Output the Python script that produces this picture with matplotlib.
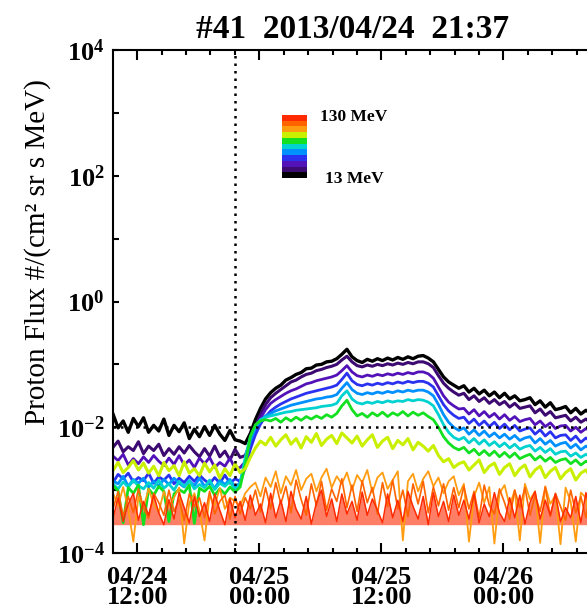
import numpy as np
import pandas as pd
import matplotlib
matplotlib.use("Agg")
import matplotlib.pyplot as plt
import matplotlib.dates as mdates
from matplotlib.colors import ListedColormap
from matplotlib.ticker import MultipleLocator, NullLocator

plt.rcParams['font.family'] = ['Liberation Serif', 'DejaVu Serif']
plt.rcParams['font.weight'] = 'bold'
plt.rcParams['mathtext.fontset'] = 'custom'
plt.rcParams['mathtext.rm'] = 'Liberation Serif'
plt.rcParams['mathtext.bf'] = 'Liberation Serif:bold'

# event onset and 30-min samples (log10 flux per channel)
event_time = pd.Timestamp('2013-04-24 21:37')
t_start = pd.Timestamp('2013-04-24 09:37')
t_end = t_start + pd.Timedelta(hours=46.9)
times = pd.date_range(t_start, periods=95, freq='30min')

lo_label = '13 MeV'
hi_label = '130 MeV'
threshold = 1e-2
red_floor = -3.55

ch_colors = ['#000000', '#3c0a70', '#5212b8', '#2a32f0', '#0090ff',
             '#00d2d0', '#12e020', '#c8f000', '#ff9c10', '#ff6400', '#ff2a00']

ch0 = [-1.79, -2.01, -1.90, -2.08, -1.86, -1.99, -1.85, -2.08, -1.97, -2.06, -1.87, -2.13, -1.97,
       -2.07, -1.93, -2.18, -2.03, -2.15, -1.99, -2.13, -1.97, -2.11, -2.21, -2.05, -2.20,
       -2.22, -2.26, -2.10, -1.88, -1.70, -1.55,
       -1.45, -1.38, -1.33, -1.25, -1.21, -1.16, -1.13, -1.07, -1.06, -1.01, -1.00, -0.96, -0.95, -0.91, -0.84, -0.76,
       -0.88, -0.94, -0.97, -0.92, -0.95, -0.91, -0.94, -0.90, -0.93, -0.89, -0.92, -0.88, -0.91, -0.87, -0.86, -0.90, -0.96,
       -1.08, -1.20, -1.28, -1.33, -1.38,
       -1.34, -1.44, -1.38, -1.47, -1.41, -1.50, -1.44, -1.53, -1.46, -1.55, -1.50, -1.58, -1.56,
       -1.53, -1.64, -1.58, -1.68, -1.61, -1.72, -1.70, -1.67, -1.77, -1.70, -1.79, -1.73, -1.78]
ch1 = [-2.32, -2.22, -2.39, -2.31, -2.37, -2.23, -2.42, -2.30, -2.37, -2.27, -2.45, -2.34, -2.43,
       -2.31, -2.41, -2.29, -2.39, -2.47, -2.34, -2.46, -2.30, -2.47, -2.38, -2.52, -2.35,
       -2.48, -2.45, -2.25, -2.00, -1.80, -1.64,
       -1.53, -1.46, -1.40, -1.34, -1.28, -1.25, -1.20, -1.16, -1.14, -1.10, -1.08, -1.05, -1.03, -1.00, -0.93, -0.87,
       -0.96, -1.02, -1.04, -1.01, -1.03, -1.00, -1.02, -0.99, -1.01, -0.98, -1.00, -0.97, -0.99, -0.96, -0.96, -0.99, -1.05,
       -1.18, -1.30, -1.38, -1.44, -1.49,
       -1.46, -1.56, -1.50, -1.59, -1.53, -1.62, -1.56, -1.64, -1.59, -1.68, -1.62, -1.70, -1.68,
       -1.66, -1.77, -1.71, -1.81, -1.75, -1.85, -1.83, -1.81, -1.90, -1.84, -1.92, -1.87, -1.93]
ch2 = [-2.46, -2.53, -2.43, -2.60, -2.50, -2.58, -2.47, -2.56, -2.45, -2.54, -2.61, -2.49, -2.59,
       -2.45, -2.60, -2.52, -2.64, -2.49, -2.58, -2.48, -2.64, -2.56, -2.62, -2.49, -2.66,
       -2.64, -2.55, -2.30, -2.05, -1.86, -1.72,
       -1.62, -1.56, -1.51, -1.46, -1.42, -1.39, -1.35, -1.31, -1.29, -1.26, -1.24, -1.22, -1.20, -1.17, -1.10, -1.02,
       -1.12, -1.18, -1.20, -1.17, -1.19, -1.16, -1.18, -1.15, -1.17, -1.14, -1.16, -1.13, -1.15, -1.12, -1.12, -1.15, -1.22,
       -1.36, -1.50, -1.60, -1.66, -1.71,
       -1.70, -1.79, -1.72, -1.82, -1.75, -1.84, -1.78, -1.87, -1.80, -1.89, -1.83, -1.91, -1.88,
       -1.86, -1.96, -1.90, -1.99, -1.93, -2.02, -1.98, -1.97, -2.06, -2.00, -2.08, -2.02, -2.07]
ch3 = [-2.88, -2.75, -2.82, -2.73, -2.87, -2.80, -2.85, -2.73, -2.89, -2.79, -2.84, -2.76, -2.90,
       -2.81, -2.88, -2.78, -2.86, -2.76, -2.84, -2.90, -2.80, -2.89, -2.76, -2.89, -2.82,
       -2.86, -2.65, -2.35, -2.12, -1.95, -1.83,
       -1.74, -1.68, -1.63, -1.59, -1.55, -1.52, -1.49, -1.46, -1.44, -1.42, -1.40, -1.38, -1.36, -1.33, -1.24, -1.14,
       -1.26, -1.32, -1.34, -1.31, -1.33, -1.30, -1.32, -1.29, -1.31, -1.28, -1.30, -1.27, -1.29, -1.27, -1.27, -1.30, -1.36,
       -1.50, -1.64, -1.74, -1.81, -1.86,
       -1.84, -1.94, -1.87, -1.97, -1.90, -1.99, -1.92, -2.02, -1.95, -2.04, -1.97, -2.06, -2.03,
       -2.01, -2.11, -2.04, -2.14, -2.07, -2.17, -2.13, -2.12, -2.21, -2.14, -2.24, -2.17, -2.23]
ch4 = [-2.85, -2.90, -2.78, -2.94, -2.83, -2.89, -2.81, -2.95, -2.86, -2.93, -2.83, -2.91, -2.81,
       -2.89, -2.95, -2.85, -2.93, -2.81, -2.94, -2.87, -2.97, -2.84, -2.91, -2.83, -2.96,
       -2.88, -2.55, -2.22, -2.02, -1.90, -1.82,
       -1.78, -1.74, -1.71, -1.68, -1.65, -1.63, -1.61, -1.59, -1.57, -1.55, -1.54, -1.52, -1.51, -1.48, -1.38, -1.29,
       -1.40, -1.46, -1.48, -1.45, -1.47, -1.44, -1.46, -1.43, -1.45, -1.42, -1.44, -1.41, -1.43, -1.41, -1.41, -1.44, -1.50,
       -1.64, -1.80, -1.92, -2.00, -2.05,
       -2.01, -2.11, -2.04, -2.13, -2.06, -2.15, -2.09, -2.17, -2.11, -2.19, -2.13, -2.21, -2.17,
       -2.15, -2.25, -2.18, -2.27, -2.21, -2.30, -2.26, -2.24, -2.33, -2.27, -2.36, -2.30, -2.35]
ch5 = [-2.90, -2.98, -2.87, -2.95, -2.85, -2.93, -2.98, -2.88, -2.97, -2.84, -2.97, -2.90, -3.00,
       -2.86, -2.94, -2.85, -2.98, -2.91, -2.96, -2.84, -2.99, -2.89, -2.94, -2.86, -3.00,
       -2.90, -2.48, -2.15, -1.98, -1.88, -1.84,
       -1.82, -1.80, -1.78, -1.76, -1.75, -1.73, -1.72, -1.71, -1.70, -1.69, -1.67, -1.66, -1.65, -1.62, -1.50, -1.42,
       -1.55, -1.61, -1.63, -1.60, -1.62, -1.59, -1.61, -1.58, -1.60, -1.58, -1.59, -1.56, -1.58, -1.56, -1.57, -1.60, -1.66,
       -1.80, -1.96, -2.08, -2.16, -2.20,
       -2.16, -2.25, -2.18, -2.27, -2.20, -2.29, -2.23, -2.31, -2.25, -2.33, -2.27, -2.35, -2.31,
       -2.29, -2.38, -2.32, -2.40, -2.34, -2.43, -2.39, -2.38, -2.46, -2.41, -2.48, -2.43, -2.47]
ch6 = [-2.93, -3.01, -3.52, -2.96, -3.05, -2.92, -3.55, -2.98, -3.08, -2.94, -3.02, -3.50, -3.06,
       -2.99, -3.04, -2.92, -3.53, -2.97, -3.02, -2.94, -3.08, -2.98, -3.06, -2.95, -3.03,
       -2.95, -2.60, -2.15, -1.96, -1.90, -1.88,
       -1.90, -1.86, -1.92, -1.85, -1.90, -1.84, -1.89, -1.83, -1.87, -1.82, -1.86, -1.80, -1.84, -1.78, -1.66, -1.57,
       -1.72, -1.82, -1.78, -1.84, -1.77, -1.82, -1.76, -1.83, -1.77, -1.81, -1.75, -1.82, -1.76, -1.81, -1.77, -1.83, -1.88,
       -2.00, -2.15, -2.25, -2.32, -2.36,
       -2.32, -2.41, -2.35, -2.44, -2.37, -2.45, -2.38, -2.47, -2.40, -2.48, -2.41, -2.50, -2.46,
       -2.43, -2.52, -2.46, -2.54, -2.48, -2.56, -2.52, -2.50, -2.58, -2.52, -2.60, -2.54, -2.58]
ch7 = [-2.69, -2.56, -2.72, -2.64, -2.53, -2.68, -2.57, -2.73, -2.62, -2.77, -2.56, -2.69, -2.61,
       -2.77, -2.55, -2.73, -2.66, -2.77, -2.57, -2.71, -2.60, -2.81, -2.66, -2.77, -2.58,
       -2.72, -2.66, -2.48, -2.33, -2.22, -2.28,
       -2.16, -2.30, -2.20, -2.12, -2.27, -2.18, -2.33, -2.15, -2.24, -2.10, -2.29, -2.19, -2.13, -2.26, -2.09, -2.17,
       -2.25, -2.14, -2.30, -2.20, -2.12, -2.32, -2.22, -2.16, -2.34, -2.21, -2.28, -2.18, -2.36, -2.24, -2.30, -2.38, -2.29,
       -2.45, -2.55, -2.50, -2.64, -2.58,
       -2.55, -2.68, -2.60, -2.52, -2.72, -2.62, -2.57, -2.75, -2.64, -2.58, -2.77, -2.66, -2.60,
       -2.79, -2.68, -2.62, -2.80, -2.70, -2.64, -2.82, -2.72, -2.66, -2.84, -2.73, -2.68, -2.80]
ch8 = [-3.05, -3.25, -2.95, -3.30, -3.82, -3.10, -3.28, -2.98, -3.22, -3.35, -3.02, -3.26, -3.12,
       -2.96, -3.85, -3.20, -3.05, -3.32, -3.80, -3.08, -3.24, -2.97, -3.30, -3.12, -3.18,
       -3.25, -3.05, -2.95, -2.88, -3.10, -2.80,
       -2.95, -2.70, -3.05, -2.78, -2.92, -2.68, -3.00, -2.82, -2.74, -3.02, -2.80, -2.66, -2.96, -2.78, -2.90, -2.72,
       -3.00, -2.76, -2.88, -2.68, -3.04, -2.80, -2.72, -2.98, -2.84, -2.70, -3.80, -2.86, -2.74, -3.02, -2.82, -2.70, -2.94,
       -2.80, -3.05, -2.86, -2.78, -3.08,
       -2.90, -3.82, -3.10, -2.88, -3.20, -2.95, -3.85, -3.05, -2.92, -3.25, -3.00, -3.80, -2.90,
       -3.15, -3.02, -3.84, -2.94, -3.22, -3.08, -3.86, -2.96, -3.18, -3.82, -3.04, -3.12, -3.83]
ch9 = [-3.30, -3.02, -3.42, -3.10, -3.36, -2.98, -3.28, -3.45, -3.05, -3.20, -3.40, -3.00, -3.34,
       -3.15, -3.48, -3.06, -3.26, -3.12, -3.44, -3.02, -3.38, -3.18, -3.08, -3.46, -3.10,
       -3.38, -3.12, -3.30, -3.00, -3.35, -2.96,
       -3.30, -2.88, -3.22, -2.94, -3.36, -2.84, -3.15, -3.40, -2.90, -3.25, -2.86, -3.32, -2.98, -3.18, -2.82, -3.28,
       -2.92, -3.34, -2.85, -3.20, -2.96, -3.38, -2.88, -3.26, -2.84, -3.30, -3.00, -3.42, -2.90, -3.22, -2.86, -3.36, -2.95,
       -3.25, -2.90, -3.32, -2.96, -3.28,
       -2.94, -3.30, -3.02, -3.44, -2.92, -3.24, -3.38, -2.98, -3.20, -3.46, -3.00, -3.28, -2.96,
       -3.40, -3.08, -3.34, -2.95, -3.42, -3.05, -3.26, -3.48, -3.00, -3.36, -3.10, -3.44, -2.98]
ch10 = [-3.45, -3.12, -3.50, -3.22, -3.05, -3.48, -3.18, -3.40, -3.08, -3.36, -3.55, -3.15, -3.46,
        -3.04, -3.28, -3.52, -3.10, -3.42, -3.20, -3.50, -3.06, -3.32, -3.55, -3.14, -3.44,
        -3.18, -3.48, -3.08, -3.40, -3.22, -3.52,
        -3.05, -3.44, -3.16, -3.50, -3.02, -3.30, -3.46, -3.10, -3.54, -3.20, -3.00, -3.42, -3.14, -3.50, -3.06, -3.38,
        -3.18, -3.48, -3.03, -3.40, -3.14, -3.32, -3.52, -3.06, -3.44, -3.16, -3.50, -3.02, -3.26, -3.46, -3.10, -3.55, -3.04,
        -3.42, -3.18, -3.50, -3.08, -3.40,
        -3.16, -3.46, -3.06, -3.52, -3.22, -3.42, -3.04, -3.36, -3.50, -3.12, -3.44, -3.08, -3.54,
        -3.20, -3.02, -3.46, -3.16, -3.40, -3.06, -3.50, -3.28, -3.44, -3.10, -3.52, -3.04, -3.40]

channels = [ch0, ch1, ch2, ch3, ch4, ch5, ch6, ch7, ch8, ch9, ch10]
widths = [2.4, 2.2, 2.0, 2.0, 2.0, 2.0, 2.0, 2.2, 1.3, 1.2, 1.1]

fig = plt.figure(figsize=(5.87, 6.11), dpi=100)
# the original is cropped on the right, so the axis runs to the picture edge
ax = fig.add_axes([113 / 587, 58 / 611, 477 / 587, 503 / 611])

for vals, col, lw in zip(channels, ch_colors, widths):
    ax.plot(times, 10.0 ** np.array(vals), color=col, lw=lw)
ax.fill_between(times, 10.0 ** red_floor, 10.0 ** np.array(ch10), color=ch_colors[10],
                alpha=0.6, lw=0)

ax.axvline(event_time, color='k', lw=1.8, ls=(0, (1, 2.0)), zorder=5)
ax.axhline(threshold, color='k', lw=1.8, ls=(0, (1, 2.0)), zorder=5)

ax.set_yscale('log')
ax.set_ylim(1e-4, 1e4)
ax.set_xlim(t_start, t_end)

ax.set_yticks([10.0 ** k for k in range(-4, 5)])
ax.set_yticklabels([r'$\mathbf{10^{%d}}$' % k if k % 2 == 0 else '' for k in range(-4, 5)])
ax.yaxis.set_minor_locator(NullLocator())

ax.xaxis.set_major_locator(mdates.HourLocator(byhour=[0, 12]))
ax.xaxis.set_major_formatter(mdates.DateFormatter('%m/%d\n%H:%M'))
ax.xaxis.set_minor_locator(MultipleLocator(0.1))

for s in ax.spines.values():
    s.set_linewidth(1.5)
ax.tick_params(axis='x', which='major', direction='in', top=True, length=7.5, width=1.5,
               labelsize=19, pad=9)
ax.tick_params(axis='x', which='minor', direction='in', top=True, length=3.8, width=1.5)
ax.tick_params(axis='y', which='major', direction='in', right=False, length=4.5, width=1.5,
               labelsize=19, pad=6)
plt.setp(ax.get_xticklabels(), linespacing=0.85)

fig.text(353 / 587, 1 - 29 / 611, '#41  2013/04/24  21:37', ha='center', va='center',
         fontsize=24, fontweight='bold')
fig.text(38 / 587, 1 - 252 / 611, 'Proton Flux #/(cm² sr s MeV)', rotation=90,
         ha='center', va='center', fontsize=21, fontweight='normal')

# energy colour key
lax = fig.add_axes([282 / 587, 1 - 178 / 611, 25 / 587, 63 / 611])
lax.imshow(np.arange(len(ch_colors))[::-1].reshape(-1, 1), cmap=ListedColormap(ch_colors),
           aspect='auto', interpolation='nearest')
lax.axis('off')
fig.text(320 / 587, 1 - 117 / 611, hi_label, ha='left', va='center', fontsize=12.5, fontweight='bold')
fig.text(325 / 587, 1 - 179 / 611, lo_label, ha='left', va='center', fontsize=12.5, fontweight='bold')

fig.savefig('out.png', dpi=100)
